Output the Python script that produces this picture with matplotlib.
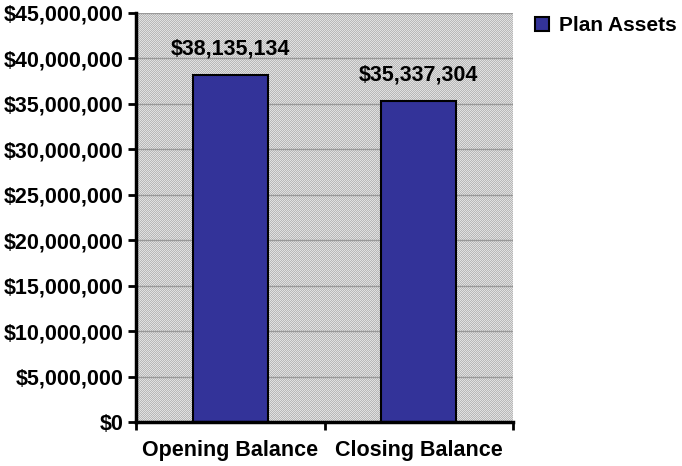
import matplotlib
matplotlib.use("Agg")
import matplotlib.pyplot as plt
import numpy as np
from matplotlib.colors import ListedColormap
from matplotlib.ticker import FuncFormatter, MultipleLocator

categories = ["Opening Balance", "Closing Balance"]
values = [38135134, 35337304]
series_name = "Plan Assets"

plt.rcParams['font.family'] = ['Liberation Sans', 'DejaVu Sans']
plt.rcParams['font.weight'] = 'bold'
FS = 15.5

fig = plt.figure(figsize=(6.82, 4.66), dpi=100)
ax = fig.add_axes([136/682, 44/466, (513-136)/682, (422-13)/466])

# checkerboard background texture (plot-area fill pattern)
h, w = 409, 377
yy, xx = np.mgrid[0:h, 0:w]
pattern = ((yy + xx) % 2).astype(float)
ax.imshow(pattern, cmap=ListedColormap(['#b8b8b8', '#e0e0e0']),
          extent=(0, 1, 0, 1), transform=ax.transAxes, aspect='auto',
          interpolation='nearest', zorder=0)

x = list(range(len(categories)))
bars = ax.bar(x, values, width=0.4, color='#333399', edgecolor='black',
              linewidth=1.5, zorder=3, label=series_name)

for xi, v in zip(x, values):
    ax.text(xi, v + 1.7e6, "${:,.0f}".format(v), ha='center', va='bottom',
            fontsize=FS, fontweight='bold', zorder=4)

ax.set_xlim(-0.5, len(categories) - 0.5)
ax.set_ylim(0, 45e6)
ax.yaxis.set_major_locator(MultipleLocator(5e6))
ax.yaxis.set_major_formatter(FuncFormatter(lambda v, p: "${:,.0f}".format(v)))
ax.yaxis.grid(True, color='#999999', linewidth=1, zorder=1)
ax.set_axisbelow(True)

ax.set_xticks(x)
ax.set_xticklabels(categories)
ax.set_xticks([-0.5, 0.5, 1.5], minor=True)
ax.tick_params(axis='x', which='major', length=0, pad=13, labelsize=FS)
ax.tick_params(axis='x', which='minor', length=6, width=2, direction='out')
ax.tick_params(axis='y', length=6, width=2, direction='out', labelsize=FS, pad=3)
for lab in ax.get_xticklabels() + ax.get_yticklabels():
    lab.set_fontweight('bold')

for s in ['top', 'right']:
    ax.spines[s].set_visible(False)
for s in ['left', 'bottom']:
    ax.spines[s].set_linewidth(2.5)
    ax.spines[s].set_zorder(5)

leg = fig.legend(handles=[bars], labels=[series_name], loc='upper left',
                 bbox_to_anchor=(535/682, 1 - 16/466), frameon=False,
                 borderpad=0, borderaxespad=0,
                 handlelength=0.65, handleheight=0.65, handletextpad=0.5,
                 prop={'size': 15, 'weight': 'bold'})

fig.savefig("out.png", dpi=100)
